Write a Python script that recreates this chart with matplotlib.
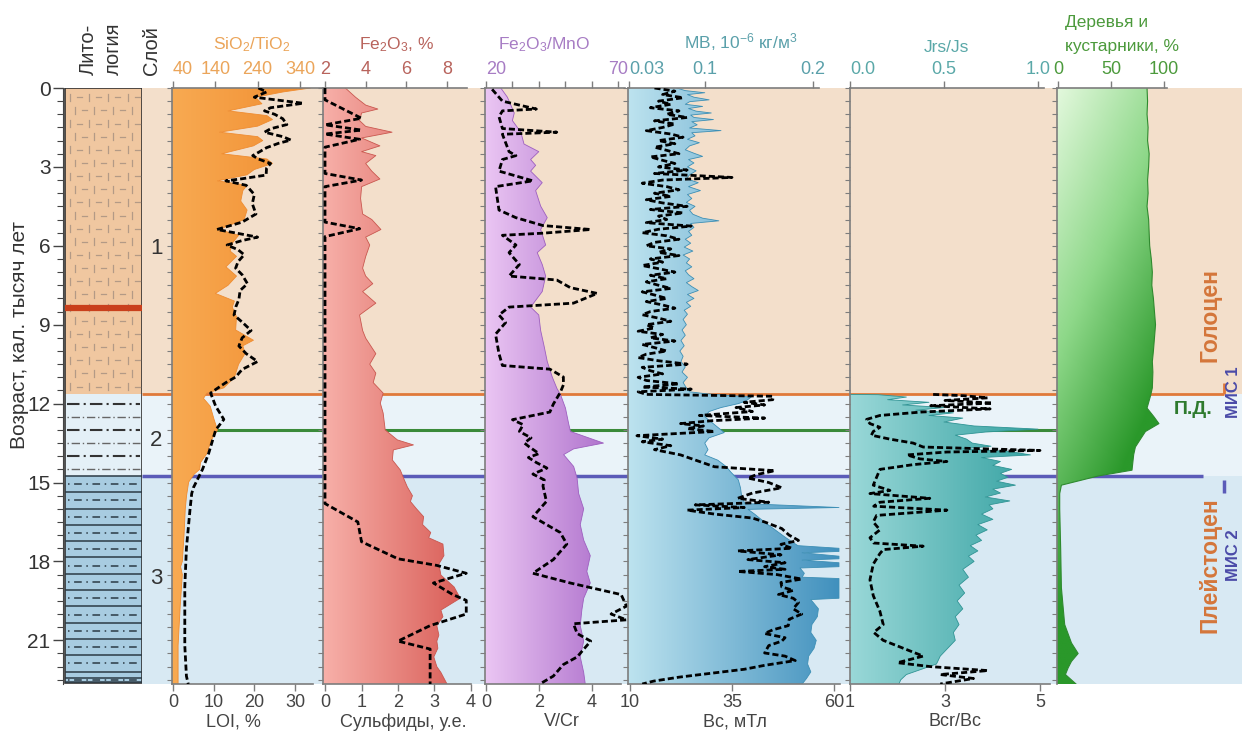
import numpy as np
import matplotlib
matplotlib.use("Agg")
import matplotlib.pyplot as plt
from matplotlib.colors import LinearSegmentedColormap
from matplotlib.patches import Rectangle

plt.rcParams['font.family'] = ['Liberation Sans', 'DejaVu Sans']
plt.rcParams['mathtext.fontset'] = 'custom'
plt.rcParams['mathtext.rm'] = 'Liberation Sans'
plt.rcParams['mathtext.it'] = 'Liberation Sans:italic'

# ---------------- data: (age, value), age in kyr cal BP ----------------
sio2_pts = [(0.0, 365), (0.15, 300), (0.35, 235), (0.6, 250), (0.87, 170), (1.05, 262),
            (1.2, 275), (1.45, 240), (1.68, 150), (1.85, 240), (2.0, 252), (2.2, 230),
            (2.5, 155), (2.7, 262), (2.87, 275), (3.1, 232), (3.3, 215), (3.53, 145),
            (3.7, 215), (3.9, 205), (4.3, 200), (4.64, 215), (5.0, 208), (5.38, 148),
            (5.6, 195), (5.9, 180), (6.2, 175), (6.4, 190), (6.8, 165), (7.15, 190),
            (7.5, 170), (7.81, 140), (8.1, 185), (8.33, 180), (8.7, 190), (9.2, 188),
            (9.59, 230), (9.8, 205), (10.1, 210), (10.5, 195), (11.0, 185), (11.4, 160),
            (11.6, 120), (11.8, 112), (12.1, 128), (12.6, 137), (13.0, 145), (13.4, 130),
            (13.9, 120), (14.24, 105), (14.5, 103), (14.68, 90), (14.98, 77), (15.5, 72),
            (16.0, 69), (17.0, 66), (17.5, 64), (18.0, 62), (18.2, 58), (18.5, 62),
            (19.7, 57), (21.2, 52), (22.66, 52)]

loi_pts = [(0.0, 21), (0.15, 23), (0.35, 20), (0.58, 32), (0.75, 24), (0.87, 22.5),
           (1.0, 25), (1.17, 27), (1.39, 28), (1.55, 24), (1.68, 22.5), (1.85, 27),
           (1.98, 29), (2.1, 26), (2.27, 23), (2.45, 21), (2.57, 19.6), (2.7, 21),
           (2.87, 24), (3.05, 23), (3.31, 22.9), (3.45, 17), (3.53, 13), (3.7, 18),
           (4.05, 20), (4.4, 19.5), (4.79, 20.4), (5.1, 17), (5.38, 10.8), (5.5, 15),
           (5.67, 20.8), (5.8, 17), (5.97, 13.3), (6.15, 16), (6.34, 17.5), (6.6, 16),
           (6.85, 15.4), (7.1, 17), (7.44, 18.3), (7.7, 16.5), (8.04, 16.2), (8.3, 15.5),
           (8.63, 15), (8.9, 17), (9.22, 19.2), (9.5, 17), (9.81, 16.2), (10.1, 18),
           (10.4, 20.8), (10.7, 17), (10.99, 15.4), (11.2, 13), (11.43, 10.8), (11.6, 9.25),
           (12.1, 10.5), (12.6, 12.5), (13.0, 10.5), (13.9, 8.75), (14.5, 7.25), (15.2, 5),
           (15.42, 4.6), (16.0, 4.2), (16.75, 3.75), (17.5, 3.3), (18.97, 2.9), (19.85, 2.9),
           (21.2, 2.9), (22.36, 3.3), (22.66, 3.75)]

fe2o3_pts = [(0.0, 3.0), (0.35, 3.5), (0.65, 4.0), (0.8, 4.6), (0.95, 3.8), (1.24, 3.7),
             (1.46, 4.0), (1.68, 5.3), (1.9, 3.8), (2.2, 4.7), (2.42, 3.8), (2.57, 4.5),
             (2.87, 4.0), (3.16, 4.3), (3.46, 4.7), (3.75, 3.8), (4.2, 3.75), (4.79, 3.85),
             (5.0, 4.3), (5.38, 4.75), (5.67, 4.0), (5.97, 4.2), (6.41, 4.0), (6.85, 3.85),
             (7.15, 4.0), (7.44, 4.35), (7.74, 3.85), (8.18, 4.5), (8.63, 3.7), (9.22, 3.85),
             (9.51, 4.0), (10.1, 4.5), (10.5, 4.2), (10.84, 4.5), (11.2, 4.37), (11.6, 4.86),
             (11.98, 4.72), (12.36, 4.86), (13.0, 4.96), (13.38, 5.56), (13.57, 6.35),
             (13.76, 5.36), (14.14, 5.31), (14.52, 5.7), (14.9, 5.9), (15.17, 6.05),
             (15.5, 6.3), (15.72, 6.2), (16.0, 6.5), (16.3, 6.85), (16.6, 6.8), (16.9, 7.2),
             (17.1, 7.1), (17.34, 7.8), (17.78, 7.85), (18.1, 7.6), (18.52, 7.7), (18.97, 8.35),
             (19.4, 8.65), (19.85, 7.7), (20.1, 7.8), (20.44, 7.5), (20.8, 7.6), (21.03, 7.5),
             (21.3, 7.55), (21.63, 7.35), (22.0, 7.5), (22.22, 7.7), (22.66, 8.0)]

sulf_pts = [(0.0, 0), (0.45, 0), (1.15, 1.0), (1.4, 0), (1.6, 1.0), (1.75, 0), (1.95, 0.95),
            (2.25, 0), (3.25, 0), (3.5, 1.0), (3.75, 0), (5.1, 0), (5.35, 0.95), (5.65, 0),
            (15.8, 0), (16.5, 0.9), (17.25, 1.0), (17.9, 2.0), (18.15, 3.06), (18.45, 3.87),
            (18.82, 2.97), (19.26, 3.5), (19.48, 3.87), (20.0, 3.87), (20.44, 2.88),
            (21.03, 2.0), (21.33, 2.88), (22.66, 2.88)]

femn_pts = [(0.0, 25.6), (0.35, 28.1), (0.65, 29.4), (0.95, 30.7), (1.24, 30), (1.68, 33.2),
            (2.13, 34.4), (2.42, 40), (2.72, 36.9), (2.94, 38.8), (3.16, 36.9), (3.6, 41.3),
            (3.9, 38.8), (4.49, 40.7), (4.93, 43.2), (5.38, 40.7), (5.97, 42.6), (6.26, 39.4),
            (6.71, 41.3), (7.15, 42.6), (7.74, 41.3), (8.33, 36.9), (8.63, 40), (9.22, 40.7),
            (9.81, 42), (10.4, 43.2), (10.99, 45.1), (11.43, 46.9), (11.65, 48.2), (12.17, 50.1),
            (12.76, 51.3), (13.06, 52), (13.5, 64.5), (13.72, 53.2), (13.94, 49.4), (14.39, 53.2),
            (14.83, 54.5), (15.42, 55.1), (16.0, 57), (16.6, 55.7), (17.19, 57), (17.78, 59.5),
            (18.38, 58.2), (18.82, 59.5), (19.4, 57), (19.85, 56.3), (20.44, 55.7), (21.03, 57),
            (21.63, 55.7), (22.22, 57), (22.66, 57.6)]

vcr_pts = [(0.05, 0.23), (0.5, 0.62), (0.8, 1.9), (0.87, 0.62), (1.09, 0.49), (1.54, 0.62),
           (1.68, 2.67), (1.76, 0.62), (2.42, 0.87), (2.57, 1.13), (2.72, 0.62), (3.16, 0.49),
           (3.53, 1.77), (3.75, 0.36), (4.64, 0.49), (4.93, 1.13), (5.23, 2.15), (5.38, 3.95),
           (5.52, 2.15), (5.6, 0.62), (5.97, 1.13), (6.26, 0.87), (6.71, 1.26), (7.15, 0.87),
           (7.3, 2.67), (7.59, 3.18), (7.81, 4.2), (8.18, 3.3), (8.33, 0.87), (8.63, 0.49),
           (8.92, 0.74), (9.36, 0.36), (10.1, 0.49), (10.55, 0.62), (10.69, 2.41), (10.99, 2.92),
           (11.29, 2.92), (11.58, 2.8), (12.02, 2.54), (12.32, 2.41), (12.61, 1.0), (12.8, 1.4),
           (13.06, 1.26), (13.3, 1.7), (13.5, 1.45), (13.65, 1.64), (13.9, 2.0), (14.05, 1.6),
           (14.24, 1.9), (14.45, 2.3), (14.68, 1.77), (14.9, 2.2), (15.13, 2.15), (15.72, 2.28),
           (16.3, 1.77), (16.9, 2.8), (17.34, 3.05), (17.93, 2.54), (18.45, 1.77), (18.82, 3.18),
           (19.26, 5.1), (19.7, 5.3), (20.0, 4.72), (20.22, 5.3), (20.37, 3.3), (20.74, 3.44),
           (21.03, 3.95), (21.63, 3.44), (21.92, 2.92), (22.36, 2.54), (22.66, 2.03)]

mb_pts = [(0.0, 0.074), (0.1, 0.082), (0.18, 0.1), (0.25, 0.084), (0.35, 0.09), (0.45, 0.104),
          (0.52, 0.086), (0.62, 0.082), (0.7, 0.098), (0.78, 0.085), (0.88, 0.092), (0.95, 0.106),
          (1.03, 0.087), (1.12, 0.09), (1.2, 0.108), (1.28, 0.088), (1.4, 0.093), (1.52, 0.086),
          (1.62, 0.115), (1.7, 0.088), (1.82, 0.091), (1.95, 0.084), (2.08, 0.095), (2.2, 0.086),
          (2.35, 0.082), (2.48, 0.09), (2.6, 0.098), (2.72, 0.085), (2.85, 0.09), (3.0, 0.084),
          (3.15, 0.092), (3.3, 0.086), (3.45, 0.083), (3.6, 0.094), (3.75, 0.085), (3.9, 0.096),
          (4.05, 0.084), (4.2, 0.088), (4.35, 0.083), (4.5, 0.091), (4.65, 0.086), (4.8, 0.089),
          (4.95, 0.098), (5.05, 0.113), (5.15, 0.087), (5.3, 0.09), (5.45, 0.085), (5.6, 0.088),
          (5.75, 0.082), (5.9, 0.087), (6.05, 0.081), (6.2, 0.089), (6.35, 0.08), (6.5, 0.086),
          (6.65, 0.083), (6.8, 0.088), (6.95, 0.082), (7.1, 0.085), (7.25, 0.09), (7.4, 0.083),
          (7.55, 0.088), (7.7, 0.094), (7.85, 0.084), (8.0, 0.09), (8.15, 0.083), (8.3, 0.087),
          (8.45, 0.081), (8.6, 0.084), (8.8, 0.08), (9.0, 0.083), (9.2, 0.079), (9.4, 0.082),
          (9.6, 0.078), (9.8, 0.081), (10.0, 0.077), (10.2, 0.08), (10.4, 0.078), (10.6, 0.082),
          (10.8, 0.079), (11.0, 0.084), (11.2, 0.08), (11.4, 0.083), (11.55, 0.086),
          (11.62, 0.1), (11.75, 0.143), (11.9, 0.138), (12.0, 0.131), (12.15, 0.115),
          (12.3, 0.104), (12.5, 0.1), (12.7, 0.106), (12.9, 0.112), (13.1, 0.118), (13.3, 0.104),
          (13.5, 0.1), (13.75, 0.103), (13.95, 0.1), (14.15, 0.112), (14.4, 0.12), (14.6, 0.124),
          (14.9, 0.131), (15.2, 0.133), (15.5, 0.134), (15.8, 0.137), (15.95, 0.224),
          (16.02, 0.14), (16.2, 0.146), (16.5, 0.155), (16.8, 0.165), (17.1, 0.175),
          (17.4, 0.186), (17.5, 0.224), (17.62, 0.224), (17.67, 0.19), (17.8, 0.224),
          (17.9, 0.224), (17.95, 0.19), (18.05, 0.224), (18.2, 0.224), (18.25, 0.188),
          (18.45, 0.192), (18.6, 0.19), (18.65, 0.224), (19.4, 0.224), (19.45, 0.198),
          (19.8, 0.205), (20.1, 0.204), (20.4, 0.199), (20.7, 0.198), (21.0, 0.203),
          (21.3, 0.201), (21.6, 0.196), (21.9, 0.195), (22.2, 0.198), (22.45, 0.194),
          (22.66, 0.19)]

bc_pts = [(0.0, 16), (0.12, 21), (0.25, 18), (0.37, 23), (0.5, 17), (0.62, 20), (0.75, 15),
          (0.87, 22), (1.0, 19), (1.12, 24), (1.25, 16), (1.37, 21), (1.5, 18), (1.62, 14),
          (1.75, 20), (1.87, 23), (2.0, 17), (2.12, 21), (2.25, 16), (2.37, 19), (2.5, 22),
          (2.62, 15), (2.75, 18), (2.87, 21), (3.0, 17), (3.12, 24), (3.25, 16), (3.4, 35),
          (3.5, 18), (3.62, 13), (3.75, 19), (3.87, 22), (4.0, 16), (4.12, 20), (4.25, 14),
          (4.37, 18), (4.5, 24), (4.62, 15), (4.75, 23), (4.87, 17), (5.0, 19), (5.12, 14),
          (5.25, 25), (5.37, 17), (5.5, 13), (5.62, 19), (5.75, 22), (5.87, 16), (6.0, 14),
          (6.12, 20), (6.25, 17), (6.37, 22), (6.5, 15), (6.62, 18), (6.75, 13), (6.87, 17),
          (7.0, 21), (7.12, 15), (7.25, 19), (7.37, 14), (7.5, 17), (7.62, 20), (7.75, 13),
          (7.87, 16), (8.0, 19), (8.12, 14), (8.25, 18), (8.37, 21), (8.5, 15), (8.62, 13),
          (8.75, 17), (8.87, 20), (9.0, 14), (9.12, 16), (9.25, 12), (9.37, 18), (9.5, 15),
          (9.62, 21), (9.75, 13), (9.87, 16), (10.0, 19), (10.12, 14), (10.25, 12), (10.37, 17),
          (10.5, 24), (10.62, 13), (10.75, 15), (10.87, 18), (11.0, 12), (11.12, 14),
          (11.25, 22), (11.37, 13), (11.45, 25), (11.55, 12),
          (11.65, 14), (11.72, 45), (11.85, 45), (11.95, 38), (12.05, 43), (12.15, 36),
          (12.3, 40), (12.45, 27), (12.55, 43), (12.65, 30), (12.76, 22.4), (12.85, 28),
          (12.95, 24), (13.06, 30.7), (13.15, 20), (13.22, 11.7), (13.35, 18), (13.45, 13),
          (13.6, 20), (13.75, 16), (13.95, 22.4), (14.2, 27), (14.4, 30.7), (14.55, 45.5),
          (14.7, 41), (14.83, 38.9), (15.0, 44), (15.2, 47.2), (15.4, 40), (15.6, 36.4),
          (15.75, 44), (15.85, 26), (15.95, 38), (16.05, 24), (16.2, 30.7), (16.35, 40),
          (16.5, 43), (16.75, 47.2), (17.0, 49), (17.2, 51.3), (17.35, 47), (17.5, 49.7),
          (17.6, 36.4), (17.75, 47), (17.93, 38.9), (18.05, 48), (18.2, 43), (18.3, 48),
          (18.38, 36.4), (18.5, 46), (18.67, 52.1), (18.8, 47), (18.97, 47.2), (19.1, 50),
          (19.26, 46.4), (19.4, 50), (19.56, 51.3), (19.8, 50), (20.0, 52.1), (20.2, 49),
          (20.44, 48.8), (20.6, 45), (20.74, 43), (20.9, 48), (21.03, 47.2), (21.2, 44),
          (21.48, 43), (21.6, 48), (21.77, 50.5), (21.95, 43), (22.1, 38), (22.25, 30),
          (22.4, 22), (22.55, 15.8), (22.66, 13)]

jrs_pts = [(11.65, 0.0), (11.66, 0.15), (11.75, 0.3), (11.85, 0.2), (11.95, 0.42), (12.05, 0.28),
           (12.15, 0.5), (12.25, 0.35), (12.35, 0.55), (12.45, 0.42), (12.55, 0.6), (12.7, 0.5),
           (12.85, 0.66), (12.97, 1.0), (13.08, 0.72), (13.2, 0.56), (13.35, 0.62), (13.5, 0.65),
           (13.62, 0.75), (13.72, 0.6), (13.82, 0.85), (13.95, 0.96), (14.05, 0.7), (14.2, 0.8),
           (14.35, 0.76), (14.5, 0.86), (14.65, 0.8), (14.8, 0.84), (14.95, 0.78), (15.1, 0.88),
           (15.25, 0.76), (15.4, 0.8), (15.55, 0.72), (15.7, 0.85), (15.85, 0.74), (16.0, 0.76),
           (16.2, 0.7), (16.4, 0.76), (16.6, 0.68), (16.8, 0.73), (17.0, 0.67), (17.2, 0.7),
           (17.4, 0.64), (17.6, 0.68), (17.8, 0.63), (18.0, 0.66), (18.3, 0.6), (18.6, 0.63),
           (18.9, 0.58), (19.2, 0.61), (19.5, 0.57), (19.8, 0.6), (20.1, 0.56), (20.4, 0.58),
           (20.7, 0.55), (21.0, 0.56), (21.3, 0.52), (21.6, 0.48), (21.9, 0.46), (22.1, 0.38),
           (22.3, 0.3), (22.5, 0.27), (22.66, 0.26)]

bcr_pts = [(11.65, 2.75), (11.7, 3.4), (11.78, 3.9), (11.88, 3.0), (11.98, 4.0), (12.08, 2.7),
           (12.2, 3.95), (12.32, 2.5), (12.45, 1.63), (12.6, 1.35), (12.76, 1.42), (12.9, 1.63),
           (13.06, 1.49), (13.2, 1.45), (13.35, 1.84), (13.5, 2.33), (13.65, 2.54), (13.78, 5.0),
           (13.84, 3.04), (13.95, 2.2), (14.1, 2.47), (14.2, 3.04), (14.32, 2.33), (14.5, 1.63),
           (14.8, 1.56), (15.1, 1.49), (15.3, 1.84), (15.42, 1.42), (15.6, 2.68), (15.75, 1.63),
           (15.9, 1.5), (16.05, 3.04), (16.25, 1.56), (16.5, 1.49), (16.8, 1.63), (17.1, 1.42),
           (17.3, 1.5), (17.42, 2.54), (17.55, 1.7), (17.7, 1.63), (18.1, 1.49), (18.7, 1.42),
           (19.3, 1.49), (19.9, 1.63), (20.4, 1.7), (20.7, 1.5), (21.0, 1.7), (21.3, 2.12),
           (21.6, 2.54), (21.85, 2.0), (22.0, 2.7), (22.15, 3.9), (22.3, 2.9), (22.45, 3.6),
           (22.66, 2.9)]

trees_pts = [(0.0, 84), (0.5, 84.5), (1.0, 84), (1.5, 85), (2.0, 84.5), (2.5, 86), (3.0, 85.5),
             (3.5, 84.5), (4.0, 85), (4.5, 84), (5.0, 85.5), (5.5, 86), (6.0, 86.5), (6.5, 88),
             (7.0, 89), (7.5, 88.5), (8.0, 90), (8.5, 91), (9.0, 92), (9.5, 91), (10.0, 90),
             (10.4, 89), (10.8, 89.5), (11.4, 89), (11.7, 87.3), (12.17, 84), (12.5, 90.5),
             (12.76, 95.2), (13.06, 82.5), (13.4, 77), (13.65, 73), (13.94, 71.4), (14.53, 69.8),
             (14.75, 38), (15.1, 3.2), (15.42, 1.6), (16.0, 1.6), (17.5, 2.5), (19.0, 3.2),
             (20.4, 6.3), (21.1, 12.7), (21.5, 19), (21.8, 12.7), (22.05, 9.5), (22.3, 7),
             (22.66, 17)]

age_ticks = [0, 3, 6, 9, 12, 15, 18, 21]
HOLO, PD, MIS = 11.65, 13.0, 14.75      # Holocene boundary, П.Д., MIS 1/2
RED_BAND = 8.35
AGE_MAX = 22.66

# ---------------- layout in canvas pixels ----------------
W, H = 1242, 735
TOP, BOT = 88, 684
GRAY = '#7d7d7d'

fig = plt.figure(figsize=(W / 100, H / 100), dpi=100)


def rect(x0, x1):
    return [x0 / W, 1 - BOT / H, (x1 - x0) / W, (BOT - TOP) / H]


def fx(px):
    return px / W


def fy(py):
    return 1 - py / H


def lims(cal, x0, x1):
    (p0, v0), (p1, v1) = cal
    k = (v1 - v0) / (p1 - p0)
    return v0 + (x0 - p0) * k, v0 + (x1 - p0) * k


def unzip(pts):
    a = np.array(pts, dtype=float)
    return a[:, 0], a[:, 1]


# background zones and boundary lines
bg = fig.add_axes(rect(142, W))
bg.set_xlim(142, W)
bg.set_ylim(AGE_MAX, 0)
bg.axis('off')
bg.axhspan(0, HOLO, color='#f3dfcb', lw=0)
bg.axhspan(HOLO, MIS, color='#eaf3f9', lw=0)
bg.axhspan(MIS, AGE_MAX, color='#d8e9f3', lw=0)
bg.hlines(HOLO, 142, 1224, color='#e0793a', lw=2)
bg.hlines(PD, 172, 1100, color='#3a8a3a', lw=2.2)
bg.hlines(MIS, 142, 1203, color='#5b5bb8', lw=2.5)
bg.vlines(1224, 11.2, HOLO, color='#e0793a', lw=2)
bg.vlines(1224, MIS + 0.15, 15.4, color='#5b5bb8', lw=2.5)

# lithology column
lx = fig.add_axes(rect(63, 142))
lx.set_xlim(63, 142)
lx.set_ylim(AGE_MAX, 0)
lx.set_facecolor('none')
for s in ('top', 'right', 'bottom'):
    lx.spines[s].set_visible(False)
lx.spines['left'].set_color('#444')
lx.set_xticks([])
lx.set_yticks(age_ticks)
lx.set_yticks(np.arange(0, AGE_MAX, 0.5), minor=True)
lx.tick_params(axis='y', which='major', length=7, width=1, color='#444',
               labelsize=15, labelcolor='#333', pad=2)
lx.tick_params(axis='y', which='minor', length=4, width=0.8, color='#444')
lx.add_patch(Rectangle((65, 0), 77, HOLO, fc='#f0c7a0', ec='none'))
lx.add_patch(Rectangle((65, HOLO), 77, MIS - HOLO, fc='#e4f0f7', ec='none'))
lx.add_patch(Rectangle((65, MIS), 77, 22.62 - MIS, fc='#a8cce1', ec='none'))
for i, a in enumerate(np.arange(0.35, HOLO - 0.1, 0.5)):
    off = 4.8 * (i % 2)
    for j, x in enumerate(np.arange(70 + off, 140, 9.6)):
        if j % 2 == 0:
            lx.plot([x, x], [a - 0.13, a + 0.13], color='#b39a86', lw=0.9)
        else:
            lx.plot([x - 2.5, x + 2.5], [a, a], color='#b39a86', lw=0.9)
for i, a in enumerate(np.arange(12.0, MIS - 0.1, 0.5)):
    if i % 2 == 0:
        lx.plot([67, 140], [a, a], color='#333', lw=1.5, dashes=(6, 2, 1, 2))
    else:
        lx.plot([67, 140], [a, a], color='#666', lw=1.0, dashes=(1, 2, 6, 2))
for a in np.arange(MIS, 22.3, 0.62):
    lx.hlines(a, 65, 142, color='#2b3a45', lw=1.1)
    lx.plot([68, 140], [a + 0.31, a + 0.31], color='#2b3a45', lw=1.1, dashes=(1, 3, 5, 3))
lx.hlines([22.45, 22.58], 65, 142, color='#2b3a45', lw=1.1)
lx.hlines(RED_BAND, 65, 142, color='#c9401c', lw=4.5)
lx.add_patch(Rectangle((65, 0), 77, 22.62, fill=False, ec='#333', lw=1.2))


def panel(x0, x1, top_cal, bot_cal):
    ax = fig.add_axes(rect(x0, x1))
    axb = ax.twiny()
    ax.set_xlim(*lims(top_cal, x0, x1))
    axb.set_xlim(*lims(bot_cal, x0, x1))
    ax.set_ylim(AGE_MAX, 0)
    ax.set_facecolor('none')
    ax.xaxis.tick_top()
    axb.xaxis.tick_bottom()
    return ax, axb


def grad_fill(ax, age, val, colors, edge, z=1):
    x0, x1 = ax.get_xlim()
    poly = ax.fill_betweenx(age, x0, val, facecolor='none', edgecolor='none')
    cmap = LinearSegmentedColormap.from_list('g', colors)
    im = ax.imshow(np.linspace(0, 1, 256)[None, :], extent=[x0, x1, AGE_MAX, 0],
                   aspect='auto', cmap=cmap, zorder=z, interpolation='bilinear')
    im.set_clip_path(poly.get_paths()[0], transform=ax.transData)
    ax.plot(val, age, color=edge, lw=0.6, zorder=z + 0.1)
    ax.set_xlim(x0, x1)
    ax.set_ylim(AGE_MAX, 0)


def dashed(axb, age, val):
    axb.plot(val, age, color='k', lw=2.0, dashes=(2.2, 1.1), zorder=5)


def style(ax, axb, top_ticks, top_lab, top_col, top_end, bot_ticks=None, bot_lab=None,
          bot_end=None, first_left=False):
    x0 = ax.get_xlim()[0]
    for s in ('right', 'bottom'):
        ax.spines[s].set_visible(False)
    for s in ('left', 'top'):
        ax.spines[s].set_color(GRAY)
        ax.spines[s].set_linewidth(1.2)
    ax.spines['top'].set_bounds(x0, top_end)
    ax.set_xticks(top_ticks, top_lab)
    ax.tick_params(axis='x', direction='out', length=5, width=1, color=GRAY,
                   labelcolor=top_col, labelsize=13, pad=2)
    if first_left:
        ax.get_xticklabels()[0].set_horizontalalignment('left')
    ax.set_yticks(np.arange(0, AGE_MAX, 0.5))
    ax.set_yticklabels([])
    ax.tick_params(axis='y', direction='out', length=3.5, width=0.8, color=GRAY)
    for s in ('left', 'right', 'top'):
        axb.spines[s].set_visible(False)
    if bot_ticks is None:
        axb.spines['bottom'].set_visible(False)
        axb.set_xticks([])
    else:
        b0 = axb.get_xlim()[0]
        axb.spines['bottom'].set_bounds(b0, bot_end)
        axb.spines['bottom'].set_color(GRAY)
        axb.spines['bottom'].set_linewidth(1.2)
        axb.set_xticks(bot_ticks, bot_lab)
        axb.tick_params(axis='x', direction='out', length=5, width=1, color=GRAY,
                        labelcolor='#444', labelsize=13, pad=2)


# panel 1: SiO2/TiO2 (fill) and LOI (dashed)
ax, axb = panel(172, 323, ((173, 40), (300, 340)), ((173, 0), (295, 30)))
a, v = unzip(sio2_pts)
grad_fill(ax, a, v, ['#f8aa52', '#f08a2c'], '#ef8c30')
a, v = unzip(loi_pts)
dashed(axb, a, v)
style(ax, axb, [40, 140, 240, 340], ['40', '140', '240', '340'], '#eba55a', 395,
      [0, 10, 20, 30], ['0', '10', '20', '30'], 34.5, first_left=True)

# panel 2: Fe2O3 (fill) and sulphides (dashed)
ax, axb = panel(323, 485, ((325, 2), (447, 8)), ((325, 0), (471, 4)))
a, v = unzip(fe2o3_pts)
grad_fill(ax, a, v, ['#f7b0a9', '#d4504a'], '#c9574f')
a, v = unzip(sulf_pts)
dashed(axb, a, v)
style(ax, axb, [2, 4, 6, 8], ['2', '4', '6', '8'], '#b8635c', 9.0,
      [0, 1, 2, 3, 4], ['0', '1', '2', '3', '4'], 4.0)

# panel 3: Fe2O3/MnO (fill) and V/Cr (dashed)
ax, axb = panel(485, 628, ((486, 20), (618, 70)), ((486, 0), (592, 4)))
a, v = unzip(femn_pts)
grad_fill(ax, a, v, ['#ebc6f3', '#a463c6'], '#9d5fbf')
a, v = unzip(vcr_pts)
dashed(axb, a, v)
style(ax, axb, [20, 30, 40, 50, 60, 70], ['20', '', '', '', '', '70'], '#a77cc4', 72.5,
      [0, 2, 4], ['0', '2', '4'], 5.1, first_left=True)

# panel 4: MB (fill) and Bc (dashed)
ax, axb = panel(628, 850, ((629, 0.03), (813, 0.2)), ((630, 10), (834, 60)))
a, v = unzip(mb_pts)
grad_fill(ax, a, v, ['#bde3ef', '#3a8cbb'], '#3d8fb5')
a, v = unzip(bc_pts)
dashed(axb, a, v)
style(ax, axb, [0.03, 0.1, 0.2], ['0.03', '0.1', '0.2'], '#5aa0aa', 0.206,
      [10, 35, 60], ['10', '35', '60'], 61.5, first_left=True)

# panel 5: Jrs/Js (fill) and Bcr/Bc (dashed)
ax, axb = panel(850, 1057, ((850, 0.0), (1038, 1.0)), ((850, 1), (1040, 5)))
a, v = unzip(jrs_pts)
grad_fill(ax, a, v, ['#9ad8d8', '#2b9c9c'], '#2f9494')
a, v = unzip(bcr_pts)
dashed(axb, a, v)
style(ax, axb, [0.0, 0.5, 1.0], ['0.0', '0.5', '1.0'], '#5aa8a8', 1.03,
      [1, 3, 5], ['1', '3', '5'], 5.2, first_left=True)

# panel 6: trees and shrubs, % (2-D gradient fill)
ax, axb = panel(1057, W, ((1058, 0), (1164, 100)), ((1058, 0), (1164, 100)))
a, v = unzip(trees_pts)
x0, x1 = ax.get_xlim()
poly = ax.fill_betweenx(a, x0, v, facecolor='none', edgecolor='none')
X, Y = np.meshgrid(np.linspace(x0, x1, 200), np.linspace(0, AGE_MAX, 300))
T = np.clip(0.45 * X / 100 + 0.75 * Y / 15, 0, 1)
gcm = LinearSegmentedColormap.from_list('gr', ['#e2f8dc', '#8ed889', '#2a982a'])
im = ax.imshow(T, extent=[x0, x1, AGE_MAX, 0], origin='upper', aspect='auto',
               cmap=gcm, vmin=0, vmax=1, zorder=1, interpolation='bilinear')
im.set_clip_path(poly.get_paths()[0], transform=ax.transData)
ax.plot(v, a, color='#2f8a2f', lw=0.8, zorder=1.1)
ax.set_xlim(x0, x1)
ax.set_ylim(AGE_MAX, 0)
style(ax, axb, [0, 50, 100], ['0', '50', '100'], '#4c9a3c', 103)

# ---------------- texts ----------------
TXT = '#333333'
fig.text(fx(88), fy(75), 'Лито-', rotation=90, ha='center', va='bottom', fontsize=14.5, color=TXT)
fig.text(fx(113), fy(75), 'логия', rotation=90, ha='center', va='bottom', fontsize=14.5, color=TXT)
fig.text(fx(152), fy(75), 'Слой', rotation=90, ha='center', va='bottom', fontsize=14.5, color=TXT)
fig.text(fx(20), fy(335), 'Возраст, кал. тысяч лет', rotation=90, ha='center', va='center',
         fontsize=15, color=TXT)
for lab, py in (('1', 248), ('2', 440), ('3', 578)):
    fig.text(fx(156), fy(py), lab, ha='center', va='center', fontsize=16, color=TXT)

fig.text(fx(252), fy(45), 'SiO$_2$/TiO$_2$', ha='center', va='center', fontsize=12.5, color='#eba55a')
fig.text(fx(397), fy(45), 'Fe$_2$O$_3$, %', ha='center', va='center', fontsize=12.5, color='#b8635c')
fig.text(fx(544), fy(45), 'Fe$_2$O$_3$/MnO', ha='center', va='center', fontsize=12.5, color='#a77cc4')
fig.text(fx(741), fy(42), 'MB, 10$^{-6}$ кг/м$^3$', ha='center', va='center', fontsize=12.5,
         color='#5aa0aa')
fig.text(fx(946), fy(47), 'Jrs/Js', ha='center', va='center', fontsize=12.5, color='#5aa8a8')
fig.text(fx(1065), fy(23), 'Деревья и', ha='left', va='center', fontsize=12.5, color='#4c9a3c')
fig.text(fx(1065), fy(46), 'кустарники, %', ha='left', va='center', fontsize=12.5, color='#4c9a3c')

for lab, px in (('LOI, %', 233), ('Сульфиды, у.е.', 403), ('V/Cr', 562), ('Bc, мТл', 735),
                ('Bcr/Bc', 955)):
    fig.text(fx(px), fy(722), lab, ha='center', va='center', fontsize=13, color='#444')

fig.text(fx(1210), fy(315), 'Голоцен', rotation=90, ha='center', va='center', fontsize=16.5,
         fontweight='bold', color='#d4763a')
fig.text(fx(1210), fy(565), 'Плейстоцен', rotation=90, ha='center', va='center', fontsize=16.5,
         fontweight='bold', color='#d4763a')
fig.text(fx(1193), fy(410), 'П.Д.', ha='center', va='center', fontsize=14, fontweight='bold',
         color='#2e7a2e')
fig.text(fx(1234), fy(392), 'МИС 1', rotation=90, ha='center', va='center', fontsize=12,
         fontweight='bold', color='#4b4ba8')
fig.text(fx(1234), fy(555), 'МИС 2', rotation=90, ha='center', va='center', fontsize=12,
         fontweight='bold', color='#4b4ba8')

fig.savefig('out.png', dpi=100, facecolor='white')
